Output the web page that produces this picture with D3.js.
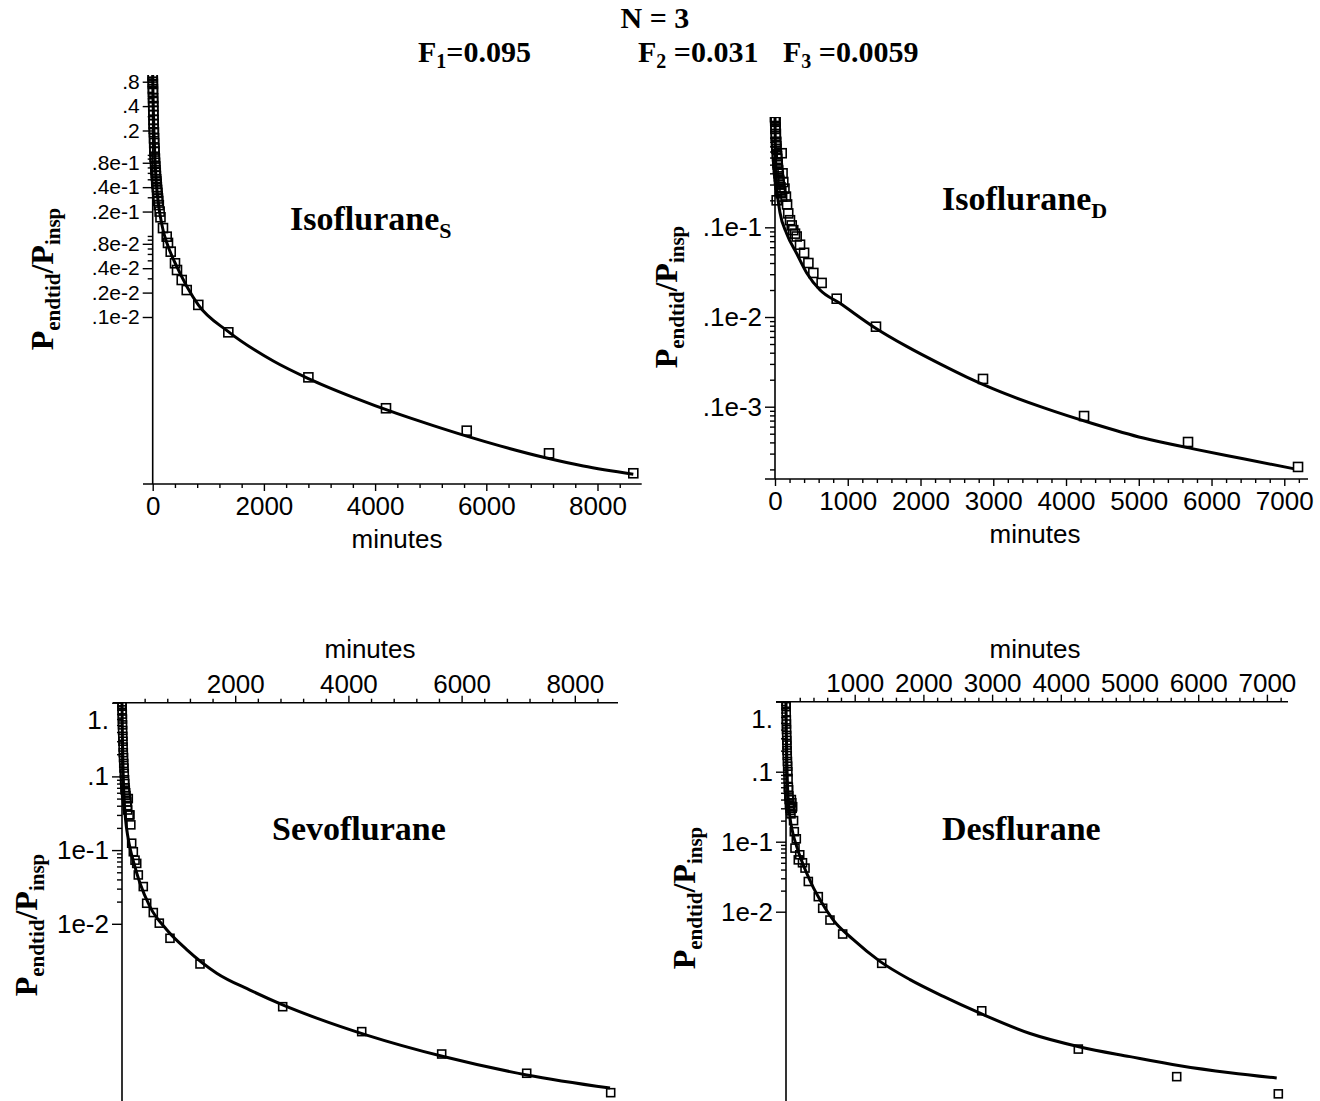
<!DOCTYPE html>
<html>
<head>
<meta charset="utf-8">
<script src="https://cdn.jsdelivr.net/npm/d3@7"></script>
<style>
  body { margin: 0; background: #fff; }
  svg { display: block; }
</style>
</head>
<body>
<svg id="fig" width="1320" height="1101"></svg>
<script>
// ---------- Washout data: minutes vs P_endtid / P_insp ----------

// Isoflurane (S)
const isoS_pointT = [0, 1, 2, 3, 4, 5, 7, 8, 10, 11, 13, 15, 17, 19, 22, 24, 27, 30, 33, 36, 40, 42, 47, 50, 55, 58, 63, 66, 71, 75, 80,
  85, 90, 95, 100, 110, 125, 140, 185, 252, 275, 324, 401, 437, 522, 612, 820, 1360, 2800, 4196, 5648, 7128, 8644];
const isoS_pointV = [0.95, 0.9, 0.8, 0.75, 0.65, 0.6, 0.5, 0.45, 0.4, 0.35, 0.31, 0.27, 0.24, 0.21, 0.19, 0.16, 0.14, 0.12, 0.11, 0.095,
  0.09, 0.08, 0.072, 0.065, 0.06, 0.055, 0.05, 0.047, 0.044, 0.04, 0.037, 0.034, 0.031, 0.029, 0.027, 0.024, 0.02, 0.017,
  0.0125, 0.0098, 0.0082, 0.0064, 0.0046, 0.0038, 0.00286, 0.00215, 0.00141, 0.000647, 0.00018, 0.0000748, 0.0000396, 0.0000208, 0.0000118];
const isoS_fitT = [0, 5, 12, 22, 40, 65, 100, 140, 190, 252, 432, 612, 820, 1360, 2169, 2799, 3608, 4388, 5047, 5647, 6246, 7086, 7745, 8644];
const isoS_fitV = [0.97, 0.6, 0.35, 0.2, 0.089, 0.045, 0.026, 0.017, 0.0115, 0.0083, 0.0042, 0.0024, 0.00141, 0.00066, 0.000286, 0.000174,
  0.000102, 0.0000646, 0.0000457, 0.0000339, 0.0000257, 0.0000182, 0.0000145, 0.0000115];

// Isoflurane (D)
const isoD_pointT = [1, 2, 3, 5, 6, 8, 10, 12, 14, 16, 18, 20, 23, 26, 28, 31, 34, 37, 40, 44, 47, 52, 55, 60, 63, 69, 75, 80, 86, 92, 98,
  104, 114, 130, 150, 166, 182, 206, 230, 251, 275, 298, 344, 400, 459, 527, 641, 848, 1388, 2859, 4248, 5677, 7189];
const isoD_pointV = [0.17, 0.165, 0.155, 0.15, 0.125, 0.13, 0.105, 0.11, 0.088, 0.09, 0.08, 0.075, 0.02, 0.066, 0.062, 0.058, 0.052, 0.05,
  0.045, 0.043, 0.04, 0.037, 0.034, 0.033, 0.03, 0.026, 0.028, 0.024, 0.025, 0.067, 0.022, 0.04, 0.032, 0.027,
  0.022, 0.018, 0.0143, 0.012, 0.0105, 0.0093, 0.0085, 0.0079, 0.0064, 0.0052, 0.004, 0.0031, 0.0024, 0.0016, 0.00078, 0.000204, 0.0000787,
  0.0000404, 0.0000213];
const isoD_fitT = [0, 4, 10, 20, 40, 69, 161, 298, 436, 619, 893, 1351, 1810, 2268, 2635, 3001, 3688, 4375, 5063, 5750, 6437, 7124];
const isoD_fitV = [0.17, 0.089, 0.05, 0.032, 0.021, 0.0145, 0.0085, 0.0051, 0.0031, 0.002, 0.00142, 0.00078, 0.00047, 0.0003, 0.000214, 0.000158,
  0.0000977, 0.0000646, 0.0000447, 0.0000339, 0.0000263, 0.0000204];

// Sevoflurane
const sevo_pointT = [1, 2, 3, 5, 7, 9, 11, 14, 17, 20, 23, 27, 31, 35, 40, 45, 49, 53, 58, 65, 70, 80, 85, 95, 100, 111, 126, 141, 156, 171,
  200, 230, 260, 288, 376, 436, 553, 659, 848, 1378, 2839, 4235, 5648, 7150, 8634];
const sevo_pointV = [0.95, 0.9, 0.8, 0.7, 0.6, 0.5, 0.42, 0.35, 0.3, 0.25, 0.21, 0.18, 0.15, 0.13, 0.11, 0.09, 0.08, 0.07, 0.065, 0.06,
  0.055, 0.05, 0.045, 0.04, 0.035, 0.05, 0.03, 0.03, 0.022, 0.0124, 0.0095, 0.0073,
  0.0066, 0.0046, 0.0032, 0.0019, 0.00142, 0.00102, 0.000636, 0.000285, 0.000075, 0.0000344, 0.0000171, 0.00000937, 0.00000511];
const sevo_fitT = [0, 8, 20, 40, 65, 100, 150, 200, 318, 495, 790, 1143, 1673, 2261, 2839, 3440, 4323, 5677, 7150, 8622];
const sevo_fitV = [1, 0.316, 0.112, 0.0447, 0.0251, 0.0158, 0.01, 0.0071, 0.00355, 0.0017, 0.00083, 0.000447, 0.000214, 0.000126, 0.0000794,
  0.0000525, 0.0000309, 0.0000158, 0.0000089, 0.0000059];

// Desflurane
const des_pointT = [1, 2, 3, 5, 6, 8, 10, 12, 14, 16, 18, 21, 24, 27, 30, 34, 38, 42, 46, 50, 55, 60, 65, 72, 78, 85, 90, 97, 110, 121, 131,
  150, 179, 200, 240, 277, 325, 470, 534, 640, 825, 1393, 2849, 4255, 5687, 7166];
const des_pointV = [0.95, 0.85, 0.7, 0.55, 0.48, 0.4, 0.33, 0.28, 0.24, 0.2, 0.17, 0.14, 0.12, 0.1, 0.08, 0.06, 0.055, 0.045, 0.04, 0.035,
  0.033, 0.03, 0.028, 0.025, 0.04, 0.036, 0.03, 0.0316, 0.02, 0.0139, 0.0081, 0.011, 0.0055,
  0.0065, 0.005, 0.0042, 0.0027, 0.00164, 0.00112, 0.00076, 0.00048, 0.000183, 0.0000384, 0.0000109, 0.0000044, 0.0000025];
const des_fitT = [0, 5, 12, 22, 35, 58, 100, 156, 230, 301, 400, 495, 689, 980, 1368, 1805, 2290, 2824, 3552, 4279, 5007, 5735, 6463, 7143];
const des_fitV = [1, 0.355, 0.141, 0.063, 0.0355, 0.0219, 0.0132, 0.0085, 0.00525, 0.00355, 0.00219, 0.00148, 0.000759, 0.000398, 0.000195,
  0.000107, 0.0000617, 0.0000355, 0.0000182, 0.0000117, 0.0000085, 0.0000063, 0.000005, 0.0000042];

// Axis tick values and their printed labels
const isoS_xTicks = [0, 2000, 4000, 6000, 8000];
const isoS_yTicks = [0.8, 0.4, 0.2, 0.08, 0.04, 0.02, 0.008, 0.004, 0.002, 0.001];
const isoS_yLabels = [".8", ".4", ".2", ".8e-1", ".4e-1", ".2e-1", ".8e-2", ".4e-2", ".2e-2", ".1e-2"];

const isoD_xTicks = [0, 1000, 2000, 3000, 4000, 5000, 6000, 7000];
const isoD_yTicks = [0.01, 0.001, 0.0001];
const isoD_yLabels = [".1e-1", ".1e-2", ".1e-3"];

const sevo_xTicks = [2000, 4000, 6000, 8000];
const sevo_yTicks = [1, 0.1, 0.01, 0.001];
const sevo_yLabels = ["1.", ".1", "1e-1", "1e-2"];

const des_xTicks = [1000, 2000, 3000, 4000, 5000, 6000, 7000];
const des_yTicks = [1, 0.1, 0.01, 0.001];
const des_yLabels = ["1.", ".1", "1e-1", "1e-2"];

// Header
const headerLine1 = "N = 3";
const headerFractions = [["F", "1", "=0.095"], ["F", "2", " =0.031"], ["F", "3", " =0.0059"]];

// ---------- drawing ----------
const serif = '"Liberation Serif", "Times New Roman", Times, serif';
const sans = '"Liberation Sans", Arial, Helvetica, sans-serif';
const svg = d3.select('#fig');

const zip = (ts, vs) => ts.map((t, i) => ({ t, v: vs[i] }));

const panels = [
  { key: 'isoS', pts: zip(isoS_pointT, isoS_pointV), fit: zip(isoS_fitT, isoS_fitV),
    xTicks: isoS_xTicks, xMinorStep: 400, yTicks: isoS_yTicks, yLabels: isoS_yLabels,
    xRange: [152.7, 641.7], tMax: 8795, xLineStart: 143,
    yRange: [484, 75], vDomain: [Math.pow(10, -5.0605), Math.pow(10, -0.0142)], minorFloor: 0.001,
    xSide: 'bottom', axisY: 484, yLineEnd: 484, marker: 9, yFont: 21,
    title: ['Isoflurane', 'S'], titleX: 290, titleY: 230,
    ylabX: 53, ylabY: 279, minutesX: 397, minutesY: 548 },
  { key: 'isoD', pts: zip(isoD_pointT, isoD_pointV), fit: zip(isoD_fitT, isoD_fitV),
    xTicks: isoD_xTicks, xMinorStep: 200, yTicks: isoD_yTicks, yLabels: isoD_yLabels,
    xRange: [775, 1308], tMax: 7326, xLineStart: 765,
    yRange: [479, 117], vDomain: [Math.pow(10, -4.806), Math.pow(10, -0.770)], minorFloor: 0,
    xSide: 'bottom', axisY: 479, yLineEnd: 479, marker: 9, yFont: 26,
    title: ['Isoflurane', 'D'], titleX: 942, titleY: 210,
    ylabX: 677, ylabY: 297, minutesX: 1035, minutesY: 543 },
  { key: 'sevo', pts: zip(sevo_pointT, sevo_pointV), fit: zip(sevo_fitT, sevo_fitV),
    xTicks: sevo_xTicks, xMinorStep: 400, yTicks: sevo_yTicks, yLabels: sevo_yLabels,
    xRange: [122, 618], tMax: 8763, xLineStart: 113,
    yRange: [1115.4, 702.7], vDomain: [Math.pow(10, -5.6), 1], minorFloor: 0.001,
    xSide: 'top', axisY: 702.7, yLineEnd: 1101, marker: 8, yFont: 26,
    title: ['Sevoflurane', null], titleX: 272, titleY: 840,
    ylabX: 37, ylabY: 925, minutesX: 370, minutesY: 658 },
  { key: 'des', pts: zip(des_pointT, des_pointV), fit: zip(des_fitT, des_fitV),
    xTicks: des_xTicks, xMinorStep: 200, yTicks: des_yTicks, yLabels: des_yLabels,
    xRange: [786, 1288], tMax: 7307, xLineStart: 776,
    yRange: [1114.7, 701.7], vDomain: [Math.pow(10, -5.9), 1], minorFloor: 0.001,
    xSide: 'top', axisY: 701.7, yLineEnd: 1101, marker: 8, yFont: 26,
    title: ['Desflurane', null], titleX: 942, titleY: 840,
    ylabX: 695, ylabY: 898, minutesX: 1035, minutesY: 658 }
];

const near = (a, b) => Math.abs(a - b) <= Math.abs(b) * 1e-6;

panels.forEach(p => {
  const g = svg.append('g').attr('class', 'panel-' + p.key);
  const x = d3.scaleLinear().domain([0, p.tMax]).range(p.xRange);
  const y = d3.scaleLog().domain(p.vDomain).range(p.yRange);
  const yTopPx = Math.min(...p.yRange);
  const yBotPx = Math.min(Math.max(...p.yRange), 1101);

  // clip marks to the plotting window (vertical view limits)
  const clipId = 'clip-' + p.key;
  svg.append('clipPath').attr('id', clipId).append('rect')
    .attr('x', p.xRange[0] - 12).attr('y', yTopPx)
    .attr('width', p.xRange[1] - p.xRange[0] + 24).attr('height', yBotPx - yTopPx);

  // --- x axis ---
  const xMinor = d3.range(0, p.tMax + 1, p.xMinorStep).filter(t => !p.xTicks.includes(t) && t > 0);
  const xAxisFn = p.xSide === 'bottom' ? d3.axisBottom : d3.axisTop;
  const gxMinor = g.append('g').attr('transform', `translate(0,${p.axisY})`)
    .call(xAxisFn(x).tickValues(xMinor).tickSize(4).tickSizeOuter(0).tickFormat(''));
  const gx = g.append('g').attr('transform', `translate(0,${p.axisY})`)
    .call(xAxisFn(x).tickValues(p.xTicks).tickSize(7).tickSizeOuter(0)
      .tickPadding(p.xSide === 'bottom' ? 6 : 3).tickFormat(d => String(d)));
  [gxMinor, gx].forEach(a => a.select('.domain').remove());
  g.append('line').attr('x1', p.xLineStart).attr('x2', p.xRange[1])
    .attr('y1', p.axisY).attr('y2', p.axisY).attr('stroke', '#000').attr('stroke-width', 1.6);
  g.append('text').attr('x', p.minutesX).attr('y', p.minutesY)
    .attr('text-anchor', 'middle').attr('font-family', sans).attr('font-size', 26).text('minutes');

  // --- y axis (logarithmic) ---
  const yMinor = y.ticks().filter(v => v >= p.minorFloor * 0.999 && !p.yTicks.some(t => near(v, t)));
  const gyMinor = g.append('g').attr('transform', `translate(${p.xRange[0]},0)`)
    .call(d3.axisLeft(y).tickValues(yMinor).tickSize(5).tickSizeOuter(0).tickFormat(''));
  const gy = g.append('g').attr('transform', `translate(${p.xRange[0]},0)`)
    .call(d3.axisLeft(y).tickValues(p.yTicks).tickSize(10).tickSizeOuter(0).tickPadding(3)
      .tickFormat((d, i) => p.yLabels[i]));
  [gyMinor, gy].forEach(a => a.select('.domain').remove());
  // a label sitting on the crossing top axis is pushed below it
  gy.selectAll('.tick text').filter(d => Math.abs(y(d) - yTopPx) < 2).attr('dy', '1.0em');
  g.append('line').attr('x1', p.xRange[0]).attr('x2', p.xRange[0])
    .attr('y1', yTopPx).attr('y2', p.yLineEnd).attr('stroke', '#000').attr('stroke-width', 1.6);

  g.selectAll('.tick line').attr('stroke', '#000').attr('stroke-width', 1.4);
  gx.selectAll('.tick text').attr('font-family', sans).attr('font-size', 26).attr('fill', '#000');
  gy.selectAll('.tick text').attr('font-family', sans).attr('font-size', p.yFont).attr('fill', '#000');

  // --- fitted curve and measured points ---
  const marks = g.append('g').attr('clip-path', `url(#${clipId})`);
  const line = d3.line().x(d => x(d.t)).y(d => y(d.v)).curve(d3.curveMonotoneX);
  marks.append('path').datum(p.fit).attr('d', line)
    .attr('fill', 'none').attr('stroke', '#000').attr('stroke-width', 3).attr('stroke-linejoin', 'round');
  marks.selectAll('rect.pt').data(p.pts).join('rect').attr('class', 'pt')
    .attr('x', d => x(d.t) - p.marker / 2).attr('y', d => y(d.v) - p.marker / 2)
    .attr('width', p.marker).attr('height', p.marker)
    .attr('fill', 'none').attr('stroke', '#000').attr('stroke-width', 1.6);

  // --- panel title ---
  const tt = g.append('text').attr('x', p.titleX).attr('y', p.titleY)
    .attr('font-family', serif).attr('font-weight', 'bold').attr('font-size', 34);
  tt.append('tspan').text(p.title[0]);
  if (p.title[1]) tt.append('tspan').attr('font-size', 22).attr('dy', 8).text(p.title[1]);

  // --- rotated y-axis title: P_endtid / P_insp ---
  const yl = g.append('text')
    .attr('transform', `translate(${p.ylabX},${p.ylabY}) rotate(-90)`)
    .attr('text-anchor', 'middle').attr('font-family', serif).attr('font-weight', 'bold').attr('font-size', 32);
  yl.append('tspan').text('P');
  yl.append('tspan').attr('font-size', 21).attr('dy', 7).text('endtid');
  yl.append('tspan').attr('dy', -7).text('/P');
  yl.append('tspan').attr('font-size', 21).attr('dy', 7).text('insp');
});

// ---------- header ----------
const head = svg.append('g').attr('font-family', serif).attr('font-weight', 'bold').attr('font-size', 30);
head.append('text').attr('x', 655).attr('y', 28).attr('text-anchor', 'middle').text(headerLine1);
const fStarts = [418, 638, 783];
headerFractions.forEach((f, i) => {
  const t = head.append('text').attr('x', fStarts[i]).attr('y', 62);
  t.append('tspan').text(f[0]);
  t.append('tspan').attr('font-size', 20).attr('dy', 6).text(f[1]);
  t.append('tspan').attr('dy', -6).text(f[2]);
});
</script>
</body>
</html>
